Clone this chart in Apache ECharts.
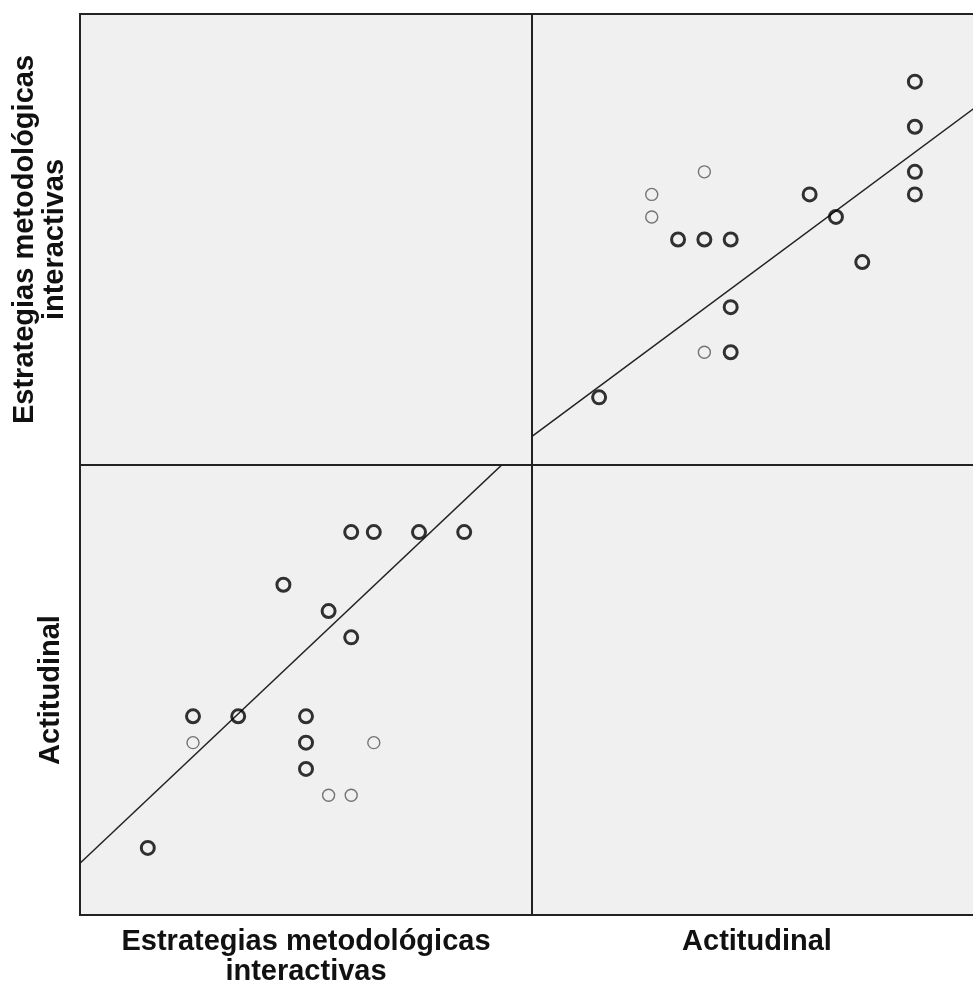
<!DOCTYPE html>
<html>
<head>
<meta charset="utf-8">
<script src="https://cdn.jsdelivr.net/npm/echarts@6/dist/echarts.min.js"></script>
<style>
  html, body { margin: 0; padding: 0; background: #ffffff; overflow: hidden; }
  #chart { width: 973px; height: 983px; }
</style>
</head>
<body>
<div id="chart"></div>
<script>
// ---- Data ----
const varNames = ['Estrategias metodológicas\ninteractivas', 'Actitudinal'];
const estrategias = [54, 52, 50, 49, 49, 48, 46, 50, 49, 48, 47, 47, 47, 44, 42, 42, 40];
const actitudinal = [48, 48, 48, 48, 44, 45, 46, 40, 38, 38, 39, 40, 41, 41, 40, 41, 36];
// number of coincident cases at each point (thick rings = overlapping cases)
const overlap = [2, 2, 2, 2, 2, 2, 2, 1, 1, 1, 2, 2, 2, 2, 1, 2, 2];
// axis ranges
const estrRange = [37, 57];
const actRange = [33.45, 50.55];
// linear fit coefficients
const fitActOnEstr = { intercept: 5.41, slope: 0.811 };
const fitEstrOnAct = { intercept: 9.30, slope: 0.866 };

// ---- Build options ----
const FONT = 'Liberation Sans, Arial, sans-serif';
const nameStyle = { fontFamily: FONT, fontWeight: 'bold', fontSize: 29, color: '#111', lineHeight: 30 };

function cellGrid(left, top, width, height) {
  return { left: left, top: top, width: width, height: height, show: true,
    backgroundColor: '#F0F0F0', borderColor: '#222', borderWidth: 2,
    containLabel: false, outerBoundsMode: 'none' };
}
const grids = [
  cellGrid(80, 14, 452, 451),   // 0: top-left (empty)
  cellGrid(532, 14, 450, 451),  // 1: top-right  x=Actitudinal, y=Estrategias
  cellGrid(80, 465, 452, 450),  // 2: bottom-left x=Estrategias, y=Actitudinal
  cellGrid(532, 465, 450, 450)  // 3: bottom-right (empty)
];

function axis(gridIndex, range, name, extra) {
  return Object.assign({
    type: 'value', gridIndex: gridIndex, min: range[0], max: range[1],
    axisLine: { show: false }, axisTick: { show: false }, axisLabel: { show: false },
    splitLine: { show: false }, name: name || '', nameLocation: 'middle',
    nameTextStyle: nameStyle
  }, extra || {});
}

const xAxes = [
  axis(0, estrRange),
  axis(1, actRange),
  axis(2, estrRange, varNames[0], { nameGap: 12 }),
  axis(3, actRange, varNames[1], { nameGap: 12 })
];
const yAxes = [
  axis(0, estrRange, varNames[0], { nameGap: 10 }),
  axis(1, estrRange),
  axis(2, actRange, varNames[1], { nameGap: 14 }),
  axis(3, actRange)
];

function pointItems(xs, ys) {
  return xs.map(function (x, i) {
    const multi = overlap[i] > 1;
    return {
      value: [x, ys[i]],
      symbolSize: multi ? 13 : 12,
      itemStyle: {
        color: 'rgba(0,0,0,0)',
        borderColor: multi ? '#000' : '#555',
        borderWidth: multi ? 3 : 1.4
      }
    };
  });
}
function fitLine(range, fit) {
  return [range[0], range[1]].map(function (x) { return [x, fit.intercept + fit.slope * x]; });
}

const series = [
  { type: 'scatter', xAxisIndex: 1, yAxisIndex: 1, symbol: 'circle',
    data: pointItems(actitudinal, estrategias), z: 3 },
  { type: 'line', xAxisIndex: 1, yAxisIndex: 1, data: fitLine(actRange, fitEstrOnAct),
    showSymbol: false, symbol: 'none', clip: true,
    lineStyle: { color: '#222', width: 1.5 }, z: 2 },
  { type: 'scatter', xAxisIndex: 2, yAxisIndex: 2, symbol: 'circle',
    data: pointItems(estrategias, actitudinal), z: 3 },
  { type: 'line', xAxisIndex: 2, yAxisIndex: 2, data: fitLine(estrRange, fitActOnEstr),
    showSymbol: false, symbol: 'none', clip: true,
    lineStyle: { color: '#222', width: 1.5 }, z: 2 }
];

const chart = echarts.init(document.getElementById('chart'), null, { renderer: 'canvas' });
chart.setOption({
  animation: false,
  backgroundColor: '#ffffff',
  grid: grids,
  xAxis: xAxes,
  yAxis: yAxes,
  series: series
});
</script>
</body>
</html>
